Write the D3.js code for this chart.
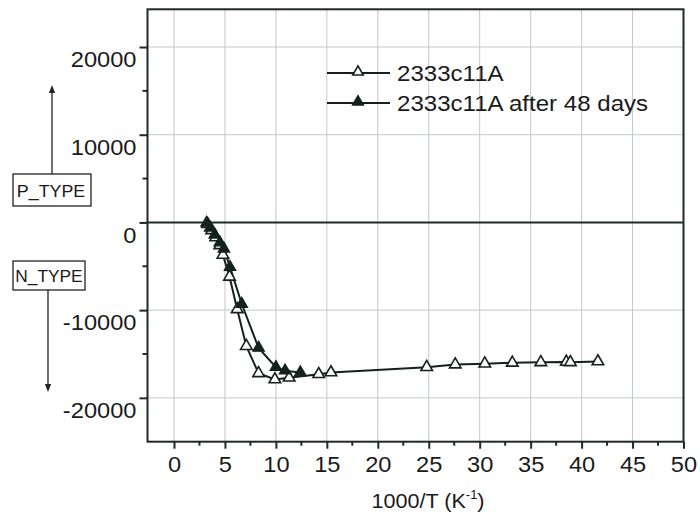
<!DOCTYPE html>
<html>
<head>
<meta charset="utf-8">
<script src="https://cdn.jsdelivr.net/npm/d3@7"></script>
<style>
  html, body { margin: 0; padding: 0; background: #ffffff; }
  svg { display: block; font-family: Arial, "Liberation Sans", sans-serif; }
</style>
</head>
<body>
<svg id="chart" width="700" height="523"></svg>
<script>
// Seebeck-type measurement versus inverse temperature
const seriesNames = ["2333c11A", "2333c11A after 48 days"];

const freshX = [3.3, 3.7, 4.1, 4.5, 4.8, 5.45, 6.2, 7.1, 8.3, 9.9, 11.3, 14.2, 15.4, 24.8, 27.6, 30.5, 33.2, 36.0, 38.5, 38.9, 41.6];
const freshY = [-200, -900, -1700, -2600, -3700, -6200, -9900, -14100, -17200, -17900, -17700, -17300, -17100, -16500, -16200, -16100, -16000, -15950, -15900, -15950, -15850];

const agedX = [3.2, 3.55, 4.0, 4.5, 4.9, 5.5, 6.65, 8.3, 10.0, 10.9, 12.4];
const agedY = [-50, -600, -1400, -2300, -3000, -5100, -9300, -14300, -16500, -16900, -17100];

const xTicks = [0, 5, 10, 15, 20, 25, 30, 35, 40, 45, 50];
const xMinorTicks = [2.5, 7.5, 12.5, 17.5, 22.5, 27.5, 32.5, 37.5, 42.5, 47.5];
const yTicks = [-20000, -10000, 0, 10000, 20000];
const yMinorTicks = [-15000, -5000, 5000, 15000];

const svg = d3.select("#chart");
const plotLeft = 147.5, plotRight = 683.5, plotTop = 9.3, plotBottom = 441.7;

const x = d3.scaleLinear().domain([-2.6, 50]).range([plotLeft, plotRight]);
const y = d3.scaleLinear().domain([-25000, 24300]).range([plotBottom, plotTop]);

const axisColor = "#1d2a26";
const gridColor = "#c4c8c8";
const textColor = "#1a1a1a";
const plainNumber = d => String(d);

// widen glyphs horizontally around their anchor point
function widen(sel, sx) {
  sel.each(function () {
    const t = d3.select(this);
    const x0 = +t.attr("x") || 0, y0 = +t.attr("y") || 0;
    t.attr("x", 0).attr("y", 0).attr("transform", `translate(${x0},${y0}) scale(${sx},1)`);
  });
}

// grid
svg.append("g").selectAll("line").data(xTicks.filter(d => d < 50)).join("line")
  .attr("x1", d => x(d)).attr("x2", d => x(d)).attr("y1", plotTop).attr("y2", plotBottom)
  .attr("stroke", gridColor).attr("stroke-width", 1);
svg.append("g").selectAll("line").data(yTicks.filter(d => d !== 0)).join("line")
  .attr("x1", plotLeft).attr("x2", plotRight).attr("y1", d => y(d)).attr("y2", d => y(d))
  .attr("stroke", gridColor).attr("stroke-width", 1);

// zero line
svg.append("line")
  .attr("x1", plotLeft).attr("x2", plotRight).attr("y1", y(0)).attr("y2", y(0))
  .attr("stroke", axisColor).attr("stroke-width", 2);

// frame
svg.append("rect")
  .attr("x", plotLeft).attr("y", plotTop).attr("width", plotRight - plotLeft).attr("height", plotBottom - plotTop)
  .attr("fill", "none").attr("stroke", axisColor).attr("stroke-width", 2);

// x axis
const xAxis = svg.append("g").attr("transform", `translate(0,${plotBottom})`)
  .call(d3.axisBottom(x).tickValues(xTicks).tickSize(7).tickPadding(8).tickFormat(plainNumber));
xAxis.select(".domain").remove();
xAxis.selectAll(".tick line").attr("stroke", axisColor).attr("stroke-width", 2);
xAxis.selectAll(".tick text").attr("font-size", 21.5).attr("fill", textColor)
  .attr("font-family", "Arial, 'Liberation Sans', sans-serif");
widen(xAxis.selectAll(".tick text"), 1.1);
svg.append("g").selectAll("line").data(xMinorTicks).join("line")
  .attr("x1", d => x(d)).attr("x2", d => x(d)).attr("y1", plotBottom).attr("y2", plotBottom + 4)
  .attr("stroke", axisColor).attr("stroke-width", 2);

// y axis
const yAxis = svg.append("g").attr("transform", `translate(${plotLeft},0)`)
  .call(d3.axisLeft(y).tickValues(yTicks).tickSize(8).tickPadding(3).tickFormat(plainNumber));
yAxis.select(".domain").remove();
yAxis.selectAll(".tick line").attr("stroke", axisColor).attr("stroke-width", 2);
yAxis.selectAll(".tick text").attr("font-size", 21.5).attr("fill", textColor).attr("dy", "0.92em")
  .attr("font-family", "Arial, 'Liberation Sans', sans-serif");
widen(yAxis.selectAll(".tick text"), 1.1);
svg.append("g").selectAll("line").data(yMinorTicks).join("line")
  .attr("x1", plotLeft - 5).attr("x2", plotLeft).attr("y1", d => y(d)).attr("y2", d => y(d))
  .attr("stroke", axisColor).attr("stroke-width", 2);

// axis title
const xt = svg.append("text").attr("x", 428).attr("y", 508).attr("text-anchor", "middle")
  .attr("font-size", 20).attr("fill", textColor);
xt.append("tspan").text("1000/T (K");
xt.append("tspan").attr("font-size", 12).attr("dy", -9).text("-1");
xt.append("tspan").attr("dy", 9).text(")");
widen(xt, 1.08);

// P/N type markers
const arrowColor = "#222";
svg.append("defs").append("marker").attr("id", "arr").attr("viewBox", "0 0 10 10")
  .attr("refX", 5).attr("refY", 5).attr("markerWidth", 6).attr("markerHeight", 8).attr("orient", "auto")
  .append("path").attr("d", "M0,1 L10,5 L0,9 Z").attr("fill", arrowColor);

svg.append("line").attr("x1", 52).attr("x2", 52).attr("y1", 174).attr("y2", 89)
  .attr("stroke", arrowColor).attr("stroke-width", 1.3).attr("marker-end", "url(#arr)");
svg.append("rect").attr("x", 13).attr("y", 174).attr("width", 78).attr("height", 32)
  .attr("fill", "#fff").attr("stroke", arrowColor).attr("stroke-width", 1.3);
const pt = svg.append("text").attr("x", 51).attr("y", 196.5).attr("text-anchor", "middle")
  .attr("font-size", 16.5).attr("fill", textColor).text("P_TYPE");
widen(pt, 1.08);

svg.append("line").attr("x1", 48).attr("x2", 48).attr("y1", 290).attr("y2", 388)
  .attr("stroke", arrowColor).attr("stroke-width", 1.3).attr("marker-end", "url(#arr)");
svg.append("rect").attr("x", 13).attr("y", 261).attr("width", 72).attr("height", 29)
  .attr("fill", "#fff").attr("stroke", arrowColor).attr("stroke-width", 1.3);
const nt = svg.append("text").attr("x", 49).attr("y", 282).attr("text-anchor", "middle")
  .attr("font-size", 16.5).attr("fill", textColor).text("N_TYPE");
widen(nt, 1.05);

// series
const lineColor = "#14221d";
const tri = d3.symbol().type(d3.symbolTriangle).size(58);
const triSmall = d3.symbol().type(d3.symbolTriangle).size(48);
const line = d3.line().x(d => x(d[0])).y(d => y(d[1]));

const fresh = freshX.map((v, i) => [v, freshY[i]]);
const aged = agedX.map((v, i) => [v, agedY[i]]);

svg.append("path").datum(fresh).attr("d", line).attr("fill", "none")
  .attr("stroke", lineColor).attr("stroke-width", 2);
svg.append("path").datum(aged).attr("d", line).attr("fill", "none")
  .attr("stroke", lineColor).attr("stroke-width", 2);

svg.append("g").selectAll("path").data(fresh).join("path")
  .attr("d", tri).attr("transform", d => `translate(${x(d[0])},${y(d[1])})`)
  .attr("fill", "#fff").attr("stroke", lineColor).attr("stroke-width", 1.6);
svg.append("g").selectAll("path").data(aged).join("path")
  .attr("d", tri).attr("transform", d => `translate(${x(d[0])},${y(d[1])})`)
  .attr("fill", lineColor).attr("stroke", lineColor).attr("stroke-width", 1.2);

// legend
const legend = svg.append("g");
const legendRows = [{ name: seriesNames[0], fill: "#fff", y: 73 }, { name: seriesNames[1], fill: lineColor, y: 103 }];
legendRows.forEach(r => {
  legend.append("line").attr("x1", 327).attr("x2", 390).attr("y1", r.y).attr("y2", r.y)
    .attr("stroke", lineColor).attr("stroke-width", 2);
  legend.append("path").attr("d", triSmall).attr("transform", `translate(358,${r.y - 1})`)
    .attr("fill", r.fill).attr("stroke", lineColor).attr("stroke-width", 1.6);
  const t = legend.append("text").attr("x", 397).attr("y", r.y + 8).attr("font-size", 21.5)
    .attr("fill", textColor).text(r.name);
  widen(t, 1.12);
});
</script>
</body>
</html>
